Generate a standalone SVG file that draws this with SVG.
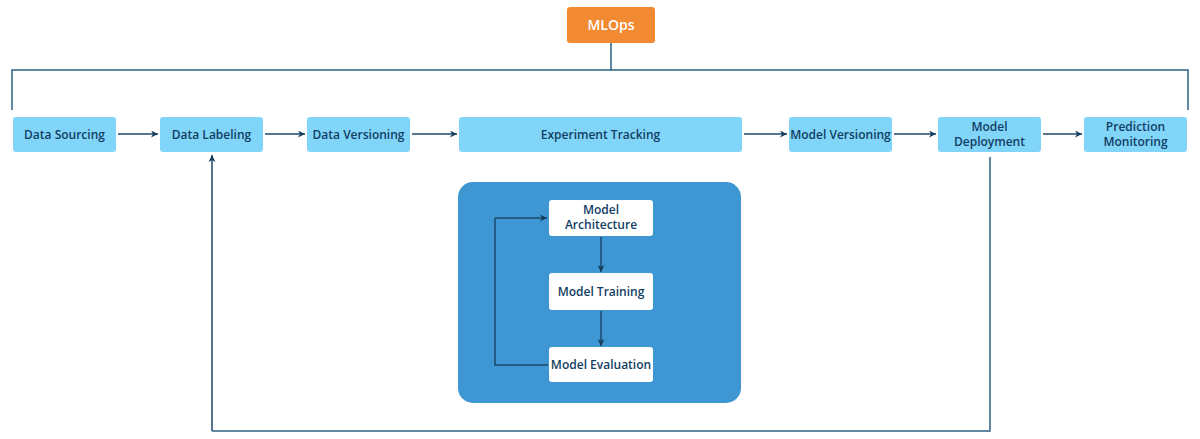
<svg xmlns="http://www.w3.org/2000/svg" width="1200" height="439" viewBox="0 0 1200 439">
<defs>
<marker id="ah" viewBox="0 0 10 10" refX="10" refY="5" markerWidth="7" markerHeight="7" orient="auto" markerUnits="userSpaceOnUse">
<path d="M0,0 L10,5 L0,10 L3,5 Z" fill="#163d5c"/>
</marker>
<style>
.n{fill:#80d5f9;}
.w{fill:#ffffff;}
.t{font-family:"Open Sans","Liberation Sans",sans-serif;font-weight:600;font-size:12px;fill:#123e63;text-anchor:middle;}
.c{fill:none;stroke:#2e6282;stroke-width:1.5;}
.a{fill:none;stroke:#1d4868;stroke-width:1.5;marker-end:url(#ah);}
</style>
</defs>
<rect width="1200" height="439" fill="#ffffff"/>
<g id="connectors">
<path class="c" d="M611,43 V70 M12,110 V70 H1188 V110"/>
<path class="a" d="M118,134 H158"/>
<path class="a" d="M265,134 H305"/>
<path class="a" d="M412,134 H457"/>
<path class="a" d="M744,134 H787"/>
<path class="a" d="M894,134 H936"/>
<path class="a" d="M1043,134 H1082"/>
<path class="c" d="M990,157 V431 H212"/>
<path class="a" d="M212,431 V155"/>
</g>
<g id="mlops">
<rect x="567" y="7" width="88" height="36" rx="3" fill="#f28a33"/>
<text x="611" y="30" class="t" style="fill:#ffffff;font-size:14px">MLOps</text>
</g>
<g id="data-sourcing"><rect class="n" x="13" y="117" width="103" height="35" rx="3"/><text class="t" x="64.5" y="138.5">Data Sourcing</text></g>
<g id="data-labeling"><rect class="n" x="160" y="117" width="103" height="35" rx="3"/><text class="t" x="211.5" y="138.5">Data Labeling</text></g>
<g id="data-versioning"><rect class="n" x="307" y="117" width="103" height="35" rx="3"/><text class="t" x="358.5" y="138.5">Data Versioning</text></g>
<g id="experiment-tracking"><rect class="n" x="459" y="117" width="283" height="35" rx="3"/><text class="t" x="600.5" y="138.5">Experiment Tracking</text></g>
<g id="model-versioning"><rect class="n" x="789" y="117" width="103" height="35" rx="3"/><text class="t" x="840.5" y="138.5">Model Versioning</text></g>
<g id="model-deployment"><rect class="n" x="938" y="117" width="103" height="35" rx="3"/><text class="t" x="989.5" y="131">Model</text><text class="t" x="989.5" y="146">Deployment</text></g>
<g id="prediction-monitoring"><rect class="n" x="1084" y="117" width="103" height="35" rx="3"/><text class="t" x="1135.5" y="131">Prediction</text><text class="t" x="1135.5" y="146">Monitoring</text></g>
<g id="experiment-loop">
<rect x="458" y="182" width="283" height="221" rx="15" fill="#3e97d3"/>
<g id="inner-connectors">
<path class="a" d="M601,237 V272"/>
<path class="a" d="M601,311 V346"/>
<path class="c" style="stroke:#1d4868" d="M548,365 H495 V218"/>
<path class="a" d="M495,218 H547"/>
</g>
<g id="model-architecture"><rect class="w" x="549" y="200" width="104" height="36" rx="3"/><text class="t" x="601" y="213.5">Model</text><text class="t" x="601" y="228.5">Architecture</text></g>
<g id="model-training"><rect class="w" x="549" y="273" width="104" height="37" rx="3"/><text class="t" x="601" y="295.5">Model Training</text></g>
<g id="model-evaluation"><rect class="w" x="549" y="347" width="104" height="35" rx="3"/><text class="t" x="601" y="368.5">Model Evaluation</text></g>
</g>
</svg>
